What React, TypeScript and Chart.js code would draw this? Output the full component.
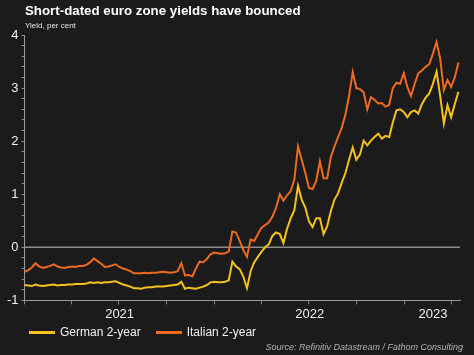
import React, { useEffect, useRef } from 'react';
import { Chart, registerables } from 'chart.js';

Chart.register(...registerables);

// Weekly observations starting 1 Jan 2021 (x = days since 1 Jan 2021)
const germanYield = [
  -0.71, -0.72, -0.73, -0.70, -0.72, -0.73, -0.72, -0.71, -0.70, -0.72,
  -0.71, -0.71, -0.70, -0.70, -0.69, -0.69, -0.69, -0.68, -0.66, -0.67,
  -0.66, -0.67, -0.66, -0.66, -0.65, -0.64, -0.67, -0.70, -0.72, -0.74,
  -0.77, -0.77, -0.78, -0.76, -0.75, -0.75, -0.74, -0.74, -0.74, -0.73,
  -0.72, -0.71, -0.70, -0.65, -0.78, -0.76, -0.77, -0.78, -0.76, -0.74,
  -0.71, -0.66, -0.65, -0.66, -0.66, -0.65, -0.62, -0.27, -0.36, -0.41,
  -0.55, -0.77, -0.45, -0.28, -0.18, -0.08, 0.00, 0.06, 0.22, 0.28,
  0.25, 0.08, 0.35, 0.55, 0.70, 1.16, 0.90, 0.75, 0.49, 0.38,
  0.55, 0.55, 0.25, 0.40, 0.68, 0.90, 1.02, 1.22, 1.40, 1.65,
  1.88, 1.65, 1.75, 2.01, 1.92, 2.01, 2.08, 2.14, 2.05, 2.10,
  2.08, 2.35, 2.58, 2.60, 2.55, 2.45, 2.55, 2.58, 2.52, 2.70,
  2.82, 2.90, 3.08, 3.31, 2.85, 2.33, 2.68, 2.45, 2.70, 2.93,
];

const italianYield = [
  -0.46, -0.43, -0.38, -0.30, -0.36, -0.39, -0.37, -0.35, -0.32, -0.36,
  -0.38, -0.39, -0.37, -0.36, -0.37, -0.35, -0.35, -0.33, -0.28, -0.21,
  -0.26, -0.31, -0.37, -0.36, -0.34, -0.32, -0.37, -0.40, -0.42, -0.45,
  -0.49, -0.49, -0.49, -0.48, -0.49, -0.48, -0.48, -0.47, -0.46, -0.47,
  -0.48, -0.47, -0.45, -0.30, -0.53, -0.52, -0.55, -0.40, -0.27, -0.28,
  -0.22, -0.13, -0.10, -0.11, -0.12, -0.11, -0.08, 0.30, 0.28, 0.12,
  -0.05, -0.18, 0.15, 0.12, 0.25, 0.37, 0.42, 0.47, 0.58, 0.75,
  1.00, 0.88, 0.98, 1.06, 1.28, 1.90, 1.65, 1.40, 1.12, 1.10,
  1.25, 1.62, 1.30, 1.30, 1.70, 1.90, 2.08, 2.25, 2.50, 2.85,
  3.30, 3.00, 2.98, 2.92, 2.60, 2.83, 2.78, 2.71, 2.72, 2.65,
  2.68, 3.00, 3.10, 3.08, 3.28, 3.02, 2.85, 3.08, 3.28, 3.33,
  3.40, 3.45, 3.65, 3.87, 3.55, 2.96, 3.15, 3.02, 3.20, 3.48,
];

const seriesNames = ['German 2-year', 'Italian 2-year'];
const seriesColors = ['#f5c21b', '#ee6a1e'];

// x-axis: quarter tick marks (days since 1 Jan 2021) and year labels centred on each year
const quarterTickDays = [0, 90, 181, 273, 365, 455, 546, 638, 730, 820];
const yearLabels = ['2021', '2022', '2023'];
const yearLabelDays = [182.5, 547.5, 784];
const xMaxDay = 836;

const yMin = -1;
const yMax = 4;
const zeroLineValue = 0;

const FONT = "'Liberation Sans', Arial, sans-serif";
const BG = '#1b1b1b';

const zeroLinePlugin = {
  id: 'zeroLine',
  beforeDatasetsDraw(chart: any) {
    const { ctx, chartArea, scales } = chart;
    const y = scales.y.getPixelForValue(zeroLineValue);
    ctx.save();
    ctx.strokeStyle = '#8c8c8c';
    ctx.lineWidth = 1.5;
    ctx.beginPath();
    ctx.moveTo(chartArea.left, y);
    ctx.lineTo(chartArea.right, y);
    ctx.stroke();
    ctx.restore();
  },
};

export default function App() {
  const canvasRef = useRef<HTMLCanvasElement | null>(null);

  useEffect(() => {
    document.body.style.margin = '0';
    document.body.style.background = BG;
    const canvas = canvasRef.current;
    if (!canvas) return;

    const toPoints = (vals: number[]) => vals.map((v, i) => ({ x: i * 7, y: v }));

    const labelMap: Record<string, string> = {};
    yearLabelDays.forEach((d, i) => {
      labelMap[String(d)] = yearLabels[i];
    });
    const allXTicks = [...quarterTickDays, ...yearLabelDays].sort((a, b) => a - b);

    const chart = new Chart(canvas, {
      type: 'line',
      data: {
        datasets: [
          {
            label: seriesNames[1],
            data: toPoints(italianYield),
            borderColor: seriesColors[1],
            borderWidth: 2,
            pointRadius: 0,
            tension: 0,
          },
          {
            label: seriesNames[0],
            data: toPoints(germanYield),
            borderColor: seriesColors[0],
            borderWidth: 2,
            pointRadius: 0,
            tension: 0,
          },
        ],
      },
      plugins: [zeroLinePlugin],
      options: {
        animation: false,
        responsive: true,
        maintainAspectRatio: false,
        layout: { padding: { top: 35, right: 14, bottom: 31, left: 4 } },
        plugins: {
          legend: { display: false },
          tooltip: { enabled: false },
          title: { display: false },
        },
        scales: {
          x: {
            type: 'linear',
            min: 0,
            max: xMaxDay,
            afterBuildTicks: (axis: any) => {
              axis.ticks = allXTicks.map((v) => ({ value: v }));
            },
            ticks: {
              autoSkip: false,
              maxRotation: 0,
              color: '#efefef',
              padding: 2,
              font: { family: FONT, size: 13 },
              callback: (v: any) => labelMap[String(v)] ?? '',
            },
            grid: {
              drawOnChartArea: false,
              tickLength: 4,
              tickColor: (ctx: any) =>
                ctx.tick && yearLabelDays.includes(ctx.tick.value) ? 'rgba(0,0,0,0)' : '#8a8a8a',
            },
            border: { color: '#9a9a9a', width: 1 },
          },
          y: {
            min: yMin,
            max: yMax,
            ticks: {
              stepSize: 0.2,
              autoSkip: false,
              color: '#efefef',
              padding: 3,
              font: { family: FONT, size: 13 },
              callback: (v: any) => {
                const n = Number(v);
                return Math.abs(n - Math.round(n)) < 1e-6 ? String(Math.round(n)) : '';
              },
            },
            grid: {
              drawOnChartArea: false,
              tickLength: 3,
              tickColor: '#8a8a8a',
            },
            border: { color: '#9a9a9a', width: 1 },
          },
        },
      },
    });

    return () => chart.destroy();
  }, []);

  return (
    <div
      style={{
        position: 'relative',
        width: 474,
        height: 355,
        background: BG,
        overflow: 'hidden',
        fontFamily: FONT,
      }}
    >
      <div style={{ position: 'absolute', left: 0, top: 0, width: 474, height: 355 }}>
        <canvas ref={canvasRef} />
      </div>
      <div
        style={{
          position: 'absolute',
          left: 25,
          top: 3,
          color: '#ffffff',
          fontWeight: 'bold',
          fontSize: 13.3,
          whiteSpace: 'nowrap',
        }}
      >
        Short-dated euro zone yields have bounced
      </div>
      <div
        style={{
          position: 'absolute',
          left: 25,
          top: 21,
          color: '#e8e8e8',
          fontSize: 8,
          whiteSpace: 'nowrap',
        }}
      >
        Yield, per cent
      </div>
      <div
        style={{
          position: 'absolute',
          left: 29,
          top: 325,
          display: 'flex',
          alignItems: 'center',
          color: '#f2f2f2',
          fontSize: 12,
          whiteSpace: 'nowrap',
        }}
      >
        <span style={{ display: 'inline-block', width: 26, height: 3, background: seriesColors[0] }} />
        <span style={{ marginLeft: 5, marginRight: 15 }}>{seriesNames[0]}</span>
        <span style={{ display: 'inline-block', width: 26, height: 3, background: seriesColors[1] }} />
        <span style={{ marginLeft: 5 }}>{seriesNames[1]}</span>
      </div>
      <div
        style={{
          position: 'absolute',
          right: 11,
          top: 342,
          color: '#b5b5b5',
          fontStyle: 'italic',
          fontSize: 9,
          whiteSpace: 'nowrap',
        }}
      >
        Source: Refinitiv Datastream / Fathom Consulting
      </div>
    </div>
  );
}
